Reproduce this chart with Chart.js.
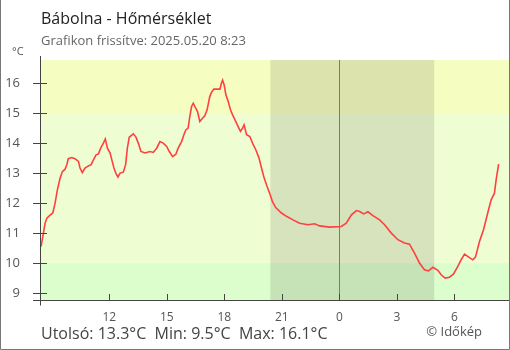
<!DOCTYPE html>
<html>
<head>
<meta charset="utf-8">
<script src="https://cdn.jsdelivr.net/npm/chart.js@4/dist/chart.umd.min.js"></script>
<style>
  html, body { margin: 0; padding: 0; background: #fff; }
  canvas { display: block; }
</style>
</head>
<body>
<canvas id="c" width="510" height="350"></canvas>
<script>
// Station and header texts
const station = 'Bábolna';
const titleText = station + ' - Hőmérséklet';
const updatedText = 'Grafikon frissítve: 2025.05.20 8:23';
const creditText = '© Időkép';

// Time of each reading, in hours since midnight of the first day
const hours = [
  8.44, 8.56, 8.65, 8.74, 8.91, 9.05, 9.17, 9.29, 9.43, 9.55,
  9.69, 9.78, 9.86, 10.04, 10.21, 10.39, 10.47, 10.59, 10.73, 10.91,
  11.05, 11.17, 11.31, 11.43, 11.55, 11.69, 11.79, 11.90, 12.04, 12.13,
  12.24, 12.35, 12.45, 12.56, 12.73, 12.85, 12.94, 13.04, 13.25, 13.39,
  13.51, 13.65, 13.86, 14.12, 14.29, 14.47, 14.64, 14.81, 14.99, 15.13,
  15.30, 15.47, 15.59, 15.77, 15.89, 15.99, 16.11, 16.20, 16.29, 16.38,
  16.50, 16.60, 16.72, 16.86, 16.98, 17.10, 17.24, 17.33, 17.45, 17.77,
  17.85, 17.91, 17.99, 18.08, 18.20, 18.32, 18.43, 18.55, 18.72, 18.84,
  18.95, 19.03, 19.16, 19.33, 19.47, 19.64, 19.81, 19.94, 20.07, 20.23,
  20.35, 20.51, 20.68, 20.98, 21.24, 21.58, 21.93, 22.36, 22.71, 22.97,
  23.50, 24.10, 24.36, 24.63, 24.89, 25.06, 25.27, 25.49, 25.75, 26.10,
  26.36, 26.71, 27.05, 27.40, 27.66, 27.92, 28.18, 28.44, 28.65, 28.88,
  29.14, 29.31, 29.52, 29.74, 29.95, 30.18, 30.35, 30.53, 30.75, 30.96,
  31.10, 31.31, 31.52, 31.74, 31.92, 32.09, 32.18, 32.31
];

// Air temperature (°C) at each reading
const temps = [
  10.55, 11.00, 11.33, 11.50, 11.60, 11.67, 12.00, 12.44, 12.83, 13.05,
  13.13, 13.28, 13.48, 13.52, 13.48, 13.39, 13.17, 13.02, 13.17, 13.24,
  13.28, 13.44, 13.61, 13.64, 13.83, 14.00, 14.14, 13.83, 13.67, 13.44,
  13.17, 12.98, 12.87, 13.00, 13.03, 13.28, 13.83, 14.20, 14.31, 14.20,
  14.00, 13.72, 13.67, 13.72, 13.69, 13.83, 14.05, 14.00, 13.89, 13.72,
  13.55, 13.63, 13.83, 14.05, 14.28, 14.44, 14.50, 14.89, 15.22, 15.33,
  15.17, 15.05, 14.72, 14.83, 14.91, 15.11, 15.55, 15.69, 15.80, 15.80,
  16.00, 16.10, 15.94, 15.61, 15.39, 15.11, 14.94, 14.78, 14.55, 14.39,
  14.50, 14.61, 14.28, 14.22, 14.00, 13.78, 13.50, 13.17, 12.85, 12.55,
  12.35, 12.05, 11.85, 11.67, 11.56, 11.44, 11.33, 11.28, 11.31, 11.24,
  11.20, 11.22, 11.33, 11.61, 11.75, 11.72, 11.64, 11.71, 11.58, 11.44,
  11.28, 11.00, 10.78, 10.67, 10.63, 10.33, 10.00, 9.78, 9.74, 9.86,
  9.76, 9.61, 9.50, 9.53, 9.63, 9.89, 10.11, 10.30, 10.20, 10.11,
  10.20, 10.72, 11.11, 11.67, 12.11, 12.33, 12.78, 13.30
];

// Axis ticks and their labels
const xTickHours = [12, 15, 18, 21, 24, 27, 30];
const xTickLabels = ['12', '15', '18', '21', '0', '3', '6'];
const yTickValues = [9, 10, 11, 12, 13, 14, 15, 16];

// Time window and value range shown
const xStart = 8.383;   // 8:23
const xEnd = 32.85;
const yMin = 8.77;
const yMax = 16.77;

// Temperature bands and the night period (sunset to sunrise)
const bandLimits = [10, 15];
const nightStart = 20.4;
const nightEnd = 28.95;
const midnight = 24;

const FONT = "'Open Sans', 'Noto Sans', sans-serif";

const points = hours.map((h, i) => ({ x: h, y: temps[i] }));
const lastT = temps[temps.length - 1];
const minT = Math.min(...temps);
const maxT = Math.max(...temps);

// Background bands, night shading and midnight marker under the line
const backdrop = {
  id: 'backdrop',
  beforeDatasetsDraw(chart) {
    const { ctx, chartArea: a, scales: { x, y } } = chart;
    const y10 = y.getPixelForValue(bandLimits[0]);
    const y15 = y.getPixelForValue(bandLimits[1]);
    ctx.save();
    ctx.fillStyle = '#f5fdc1';
    ctx.fillRect(a.left, a.top, a.right - a.left, y15 - a.top);
    ctx.fillStyle = '#effdd2';
    ctx.fillRect(a.left, y15, a.right - a.left, y10 - y15);
    ctx.fillStyle = '#dcfdcc';
    ctx.fillRect(a.left, y10, a.right - a.left, a.bottom - y10);

    const n0 = x.getPixelForValue(nightStart);
    const n1 = x.getPixelForValue(nightEnd);
    ctx.fillStyle = 'rgba(0,0,0,0.1)';
    ctx.fillRect(n0, a.top, n1 - n0, a.bottom - a.top);

    const mx = Math.round(x.getPixelForValue(midnight)) + 0.5;
    ctx.strokeStyle = '#3a8acc';
    ctx.lineWidth = 1;
    ctx.beginPath();
    ctx.moveTo(mx, a.top);
    ctx.lineTo(mx, a.bottom);
    ctx.stroke();
    ctx.restore();
  },
  afterDraw(chart) {
    const { ctx, chartArea: a, scales: { x, y } } = chart;
    ctx.save();
    ctx.strokeStyle = '#444';
    ctx.lineWidth = 1;
    ctx.beginPath();
    // axis lines
    const ax = Math.round(a.left) + 0.5;
    const ay = Math.round(a.bottom) + 0.5;
    ctx.moveTo(ax, a.top - 4);
    ctx.lineTo(ax, ay + 5);
    ctx.moveTo(a.left - 7, ay);
    ctx.lineTo(a.right, ay);
    // y ticks crossing the axis
    yTickValues.forEach(v => {
      const py = Math.round(y.getPixelForValue(v)) + 0.5;
      ctx.moveTo(a.left - 7, py);
      ctx.lineTo(a.left + 7, py);
    });
    // x ticks pointing into the plot
    xTickHours.forEach(h => {
      const px = Math.round(x.getPixelForValue(h)) + 0.5;
      ctx.moveTo(px, a.bottom - 6);
      ctx.lineTo(px, a.bottom);
    });
    ctx.stroke();

    // frame
    ctx.strokeStyle = '#777';
    ctx.beginPath();
    ctx.moveTo(0.5, 0);
    ctx.lineTo(0.5, 349.5);
    ctx.lineTo(509.5, 349.5);
    ctx.lineTo(509.5, 0);
    ctx.stroke();

    // header
    ctx.textBaseline = 'alphabetic';
    ctx.textAlign = 'left';
    ctx.fillStyle = '#222';
    ctx.font = '16px ' + FONT;
    ctx.fillText(titleText, 41, 24);
    ctx.fillStyle = '#666';
    ctx.font = '13px ' + FONT;
    ctx.fillText(updatedText, 41, 45);
    ctx.fillStyle = '#555';
    ctx.font = '11px ' + FONT;
    ctx.fillText('°C', 12, 55);

    // footer summary
    ctx.fillStyle = '#444';
    ctx.font = '16px ' + FONT;
    const summary = 'Utolsó: ' + lastT.toFixed(1) + '°C  Min: ' + minT.toFixed(1) +
      '°C  Max: ' + maxT.toFixed(1) + '°C';
    ctx.fillText(summary, 41, 339);
    ctx.fillStyle = '#555';
    ctx.font = '13px ' + FONT;
    ctx.textAlign = 'right';
    ctx.fillText(creditText, 482, 336);
    ctx.restore();
  }
};

new Chart(document.getElementById('c'), {
  type: 'line',
  data: {
    datasets: [{
      data: points,
      borderColor: '#ff4040',
      borderWidth: 1.6,
      pointRadius: 0,
      tension: 0,
      fill: false
    }]
  },
  options: {
    responsive: false,
    animation: false,
    layout: { padding: { top: 60, left: 0, right: 1, bottom: 0 } },
    plugins: { legend: { display: false }, tooltip: { enabled: false } },
    scales: {
      x: {
        type: 'linear',
        min: xStart,
        max: xEnd,
        afterBuildTicks: s => { s.ticks = xTickHours.map(v => ({ value: v })); },
        afterFit: s => { s.height = 50; },
        grid: { display: false, drawTicks: false },
        border: { display: false },
        ticks: {
          autoSkip: false,
          maxRotation: 0,
          padding: 10,
          color: '#555',
          font: { family: FONT, size: 12 },
          callback: (v, i) => xTickLabels[i]
        }
      },
      y: {
        min: yMin,
        max: yMax,
        afterBuildTicks: s => { s.ticks = yTickValues.map(v => ({ value: v })); },
        afterFit: s => { s.width = 40; },
        grid: { display: false, drawTicks: false },
        border: { display: false },
        ticks: {
          padding: 20,
          color: '#555',
          font: { family: FONT, size: 13 },
          callback: v => String(v)
        }
      }
    }
  },
  plugins: [backdrop]
});
</script>
</body>
</html>
